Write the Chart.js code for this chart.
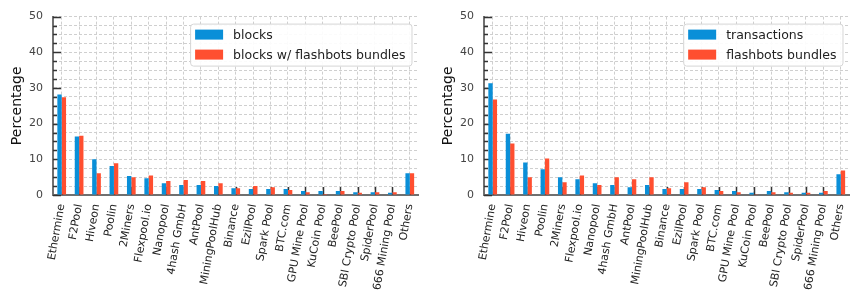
<!DOCTYPE html>
<html>
<head>
<meta charset="utf-8">
<script src="https://cdn.jsdelivr.net/npm/chart.js@4/dist/chart.umd.min.js"></script>
<style>
    html, body { margin: 0; padding: 0; background: #fff; }
    #wrap { position: relative; width: 850px; height: 295px; overflow: hidden; }
    .panel { position: absolute; top: 0; width: 431px; height: 295px; }
</style>
</head>
<body>
<div id="wrap">
    <div class="panel" style="left:0"><canvas id="blocks-chart" width="431" height="295"></canvas></div>
    <div class="panel" style="left:431px"><canvas id="tx-chart" width="431" height="295"></canvas></div>
</div>
<script>
// Mining pools (same order in both panels)
const pools = ['Ethermine', 'F2Pool', 'Hiveon', 'Poolin', '2Miners', 'Flexpool.io', 'Nanopool',
    '4hash GmbH', 'AntPool', 'MiningPoolHub', 'Binance', 'EzilPool', 'Spark Pool', 'BTC.com',
    'GPU Mine Pool', 'KuCoin Pool', 'BeePool', 'SBI Crypto Pool', 'SpiderPool', '666 Mining Pool', 'Others'];

// Left panel
const blocksPct = [28.2, 16.4, 10.0, 8.1, 5.3, 4.7, 3.3, 2.8, 2.8, 2.5, 1.9, 1.7, 1.7, 1.7, 1.1, 1.1, 1.1, 0.8, 0.8, 0.6, 6.1];
const flashbotsBlocksPct = [27.4, 16.6, 6.1, 8.9, 5.0, 5.5, 3.9, 4.2, 3.9, 3.3, 1.9, 2.5, 2.2, 1.4, 0.8, 0.3, 1.1, 0.6, 0.8, 0.8, 6.1];

// Right panel
const txPct = [31.3, 17.2, 9.1, 7.2, 5.0, 4.4, 3.3, 2.8, 2.2, 2.8, 1.7, 1.7, 1.7, 1.4, 1.1, 0.6, 1.1, 0.8, 0.6, 0.6, 5.8];
const bundlesPct = [26.8, 14.4, 5.0, 10.2, 3.6, 5.5, 2.8, 5.0, 4.4, 5.0, 1.9, 3.6, 2.2, 1.1, 0.8, 0.1, 0.8, 0.6, 0.6, 1.1, 6.9];

const yTicks = [0, 10, 20, 30, 40, 50];

const BLUE = '#0a8fd8';
const RED = '#ff4f30';
const FONT = 'DejaVu Sans';

// inward tick marks, drawn under the bars
const innerTicks = {
    id: 'innerTicks',
    beforeDatasetsDraw(chart) {
        const { ctx, chartArea, scales } = chart;
        ctx.save();
        ctx.strokeStyle = '#333';
        ctx.lineWidth = 1.5;
        ctx.beginPath();
        scales.x.ticks.forEach((t, i) => {
            const x = Math.round(scales.x.getPixelForTick(i)) + 0.5;
            ctx.moveTo(x, chartArea.bottom);
            ctx.lineTo(x, chartArea.bottom - 8);
        });
        scales.y.ticks.forEach(t => {
            const y = Math.round(scales.y.getPixelForValue(t.value)) + 0.5;
            const len = t.value % 10 === 0 ? 8 : 4;
            ctx.moveTo(chartArea.left, y);
            ctx.lineTo(chartArea.left + len, y);
        });
        ctx.stroke();
        ctx.restore();
    }
};

// legend box in the upper right corner of the plot
const boxLegend = {
    id: 'boxLegend',
    afterDraw(chart) {
        const { ctx, chartArea } = chart;
        const sets = chart.data.datasets;
        ctx.save();
        ctx.font = `12.5px "${FONT}"`;
        const textW = Math.max(...sets.map(d => ctx.measureText(d.label).width));
        const w = 5 + 28 + 10 + textW + 6;
        const h = 42;
        const x0 = chartArea.right - 7 - w;
        const y0 = chartArea.top + 7;
        ctx.fillStyle = 'rgba(255,255,255,0.9)';
        ctx.strokeStyle = '#d6d6d6';
        ctx.lineWidth = 1;
        ctx.beginPath();
        ctx.roundRect(x0 + 0.5, y0 + 0.5, w, h, 3);
        ctx.fill();
        ctx.stroke();
        ctx.textBaseline = 'middle';
        sets.forEach((d, i) => {
            const cy = y0 + 11 + i * 20;
            ctx.fillStyle = d.backgroundColor;
            ctx.fillRect(x0 + 5, cy - 5, 28, 10);
            ctx.fillStyle = '#222';
            ctx.fillText(d.label, x0 + 43, cy + 1);
        });
        ctx.restore();
    }
};

function buildChart(canvasId, labelA, dataA, labelB, dataB) {
    return new Chart(document.getElementById(canvasId), {
        type: 'bar',
        data: {
            labels: pools,
            datasets: [
                { label: labelA, data: dataA, backgroundColor: BLUE },
                { label: labelB, data: dataB, backgroundColor: RED }
            ]
        },
        plugins: [innerTicks, boxLegend],
        options: {
            responsive: false,
            animation: false,
            devicePixelRatio: 1,
            layout: { padding: { top: 14, right: 9, left: 0, bottom: 0 } },
            datasets: { bar: { categoryPercentage: 0.5, barPercentage: 1.0 } },
            plugins: { legend: { display: false }, tooltip: { enabled: false } },
            scales: {
                x: {
                    offset: true,
                    grid: { offset: false, color: '#cfcfcf', drawTicks: false },
                    border: { color: '#707070', width: 2, dash: [3, 2] },
                    ticks: {
                        autoSkip: false, minRotation: 80, maxRotation: 80, padding: 8,
                        color: '#222', font: { family: FONT, size: 11 }
                    },
                    afterFit: s => { s.height = 100; }
                },
                y: {
                    min: 0, max: 50,
                    grid: { color: '#cfcfcf', drawTicks: false },
                    border: { color: '#707070', width: 2, dash: [3, 2] },
                    ticks: {
                        stepSize: 2.5, autoSkip: false, padding: 10,
                        color: '#444', font: { family: FONT, size: 11 },
                        callback: v => yTicks.includes(v) ? v : ''
                    },
                    title: {
                        display: true, text: 'Percentage', color: '#111',
                        font: { family: FONT, size: 14 }, padding: { top: 9, bottom: 0 }
                    },
                    afterFit: s => { s.width = 53; }
                }
            }
        }
    });
}

buildChart('blocks-chart', 'blocks', blocksPct, 'blocks w/ flashbots bundles', flashbotsBlocksPct);
buildChart('tx-chart', 'transactions', txPct, 'flashbots bundles', bundlesPct);
</script>
</body>
</html>
